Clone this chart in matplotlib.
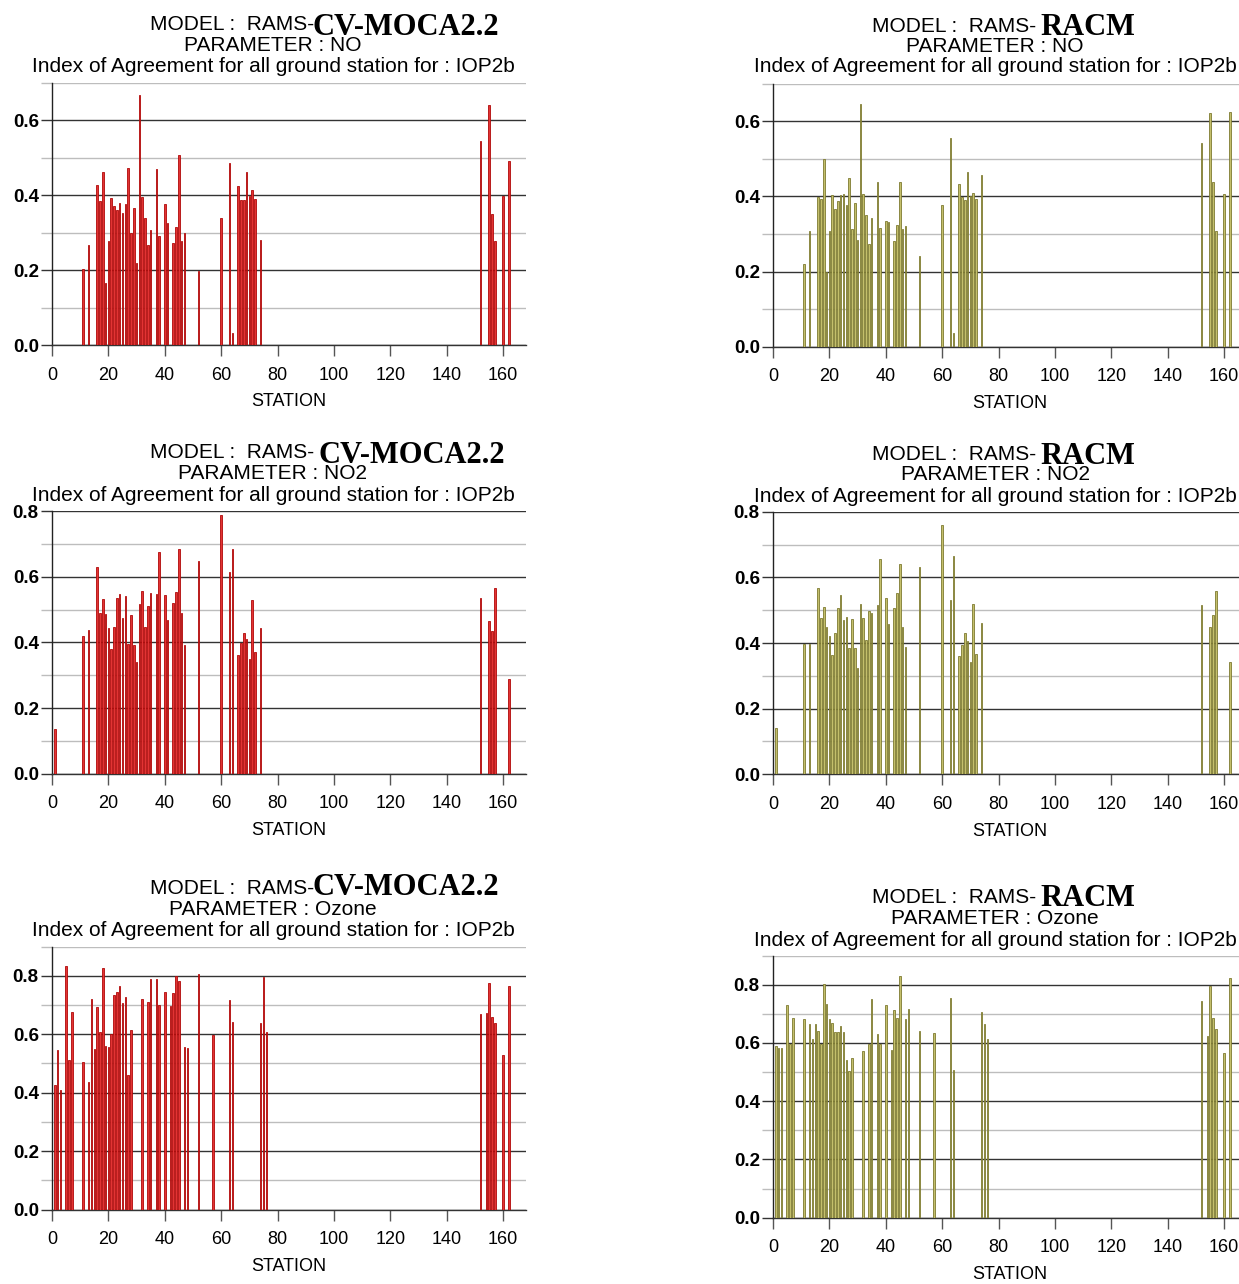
import matplotlib
matplotlib.use("Agg")
import matplotlib.pyplot as plt
from matplotlib.ticker import MultipleLocator

W, H = 1239, 1284

# station numbers (shared by both models for a given parameter)
no_stations = [11, 13, 16, 17, 18, 19, 20, 21, 22, 23, 24, 25, 26, 27, 28, 29, 30, 31, 32, 33,
               34, 35, 37, 38, 40, 41, 43, 44, 45, 46, 47, 52, 60, 63, 64, 66, 67, 68, 69, 70,
               71, 72, 74, 152, 155, 156, 157, 160, 162]
no2_stations = [1, 11, 13, 16, 17, 18, 19, 20, 21, 22, 23, 24, 25, 26, 27, 28, 29, 30, 31, 32,
                33, 34, 35, 37, 38, 40, 41, 43, 44, 45, 46, 47, 52, 60, 63, 64, 66, 67, 68, 69,
                70, 71, 72, 74, 152, 155, 156, 157, 162]
o3_stations = [1, 2, 3, 5, 6, 7, 11, 13, 14, 15, 16, 17, 18, 19, 20, 21, 22, 23, 24, 25, 26,
               27, 28, 32, 34, 35, 37, 38, 40, 42, 43, 44, 45, 47, 48, 52, 57, 63, 64, 74, 75,
               76, 152, 154, 155, 156, 157, 160, 162]

no_moca = [0.204, 0.268, 0.427, 0.386, 0.463, 0.166, 0.279, 0.394, 0.371, 0.362, 0.380, 0.354,
           0.378, 0.473, 0.300, 0.366, 0.220, 0.668, 0.396, 0.340, 0.266, 0.308, 0.469, 0.290,
           0.376, 0.327, 0.272, 0.316, 0.507, 0.277, 0.300, 0.197, 0.340, 0.485, 0.031, 0.425,
           0.388, 0.388, 0.463, 0.398, 0.413, 0.389, 0.281, 0.546, 0.642, 0.350, 0.278, 0.398,
           0.492]
no_racm = [0.221, 0.309, 0.399, 0.393, 0.500, 0.200, 0.309, 0.404, 0.367, 0.388, 0.404, 0.405,
           0.378, 0.448, 0.312, 0.383, 0.284, 0.646, 0.407, 0.350, 0.272, 0.342, 0.437, 0.316,
           0.333, 0.332, 0.280, 0.324, 0.438, 0.314, 0.322, 0.240, 0.377, 0.555, 0.036, 0.432,
           0.398, 0.390, 0.465, 0.401, 0.410, 0.393, 0.456, 0.541, 0.621, 0.439, 0.308, 0.406,
           0.624]
no2_moca = [0.135, 0.419, 0.437, 0.628, 0.490, 0.532, 0.487, 0.443, 0.380, 0.446, 0.534, 0.548,
            0.475, 0.542, 0.394, 0.482, 0.391, 0.340, 0.518, 0.555, 0.446, 0.512, 0.550, 0.548,
            0.674, 0.544, 0.467, 0.521, 0.554, 0.684, 0.490, 0.392, 0.647, 0.788, 0.615, 0.684,
            0.360, 0.399, 0.427, 0.410, 0.348, 0.530, 0.370, 0.445, 0.534, 0.464, 0.435, 0.566,
            0.289]
no2_racm = [0.141, 0.397, 0.397, 0.567, 0.475, 0.509, 0.448, 0.420, 0.364, 0.430, 0.508, 0.547,
            0.471, 0.480, 0.384, 0.474, 0.384, 0.324, 0.518, 0.476, 0.409, 0.497, 0.492, 0.517,
            0.657, 0.538, 0.459, 0.507, 0.552, 0.641, 0.450, 0.387, 0.631, 0.761, 0.530, 0.666,
            0.360, 0.394, 0.430, 0.407, 0.341, 0.519, 0.365, 0.460, 0.515, 0.450, 0.485, 0.559,
            0.341]
o3_moca = [0.425, 0.545, 0.408, 0.835, 0.511, 0.676, 0.504, 0.437, 0.721, 0.550, 0.693, 0.606,
           0.825, 0.560, 0.558, 0.600, 0.733, 0.745, 0.765, 0.708, 0.727, 0.459, 0.614, 0.721,
           0.711, 0.789, 0.789, 0.700, 0.745, 0.697, 0.742, 0.798, 0.782, 0.556, 0.553, 0.805,
           0.597, 0.717, 0.642, 0.638, 0.797, 0.607, 0.670, 0.672, 0.774, 0.659, 0.640, 0.529,
           0.766]
o3_racm = [0.590, 0.583, 0.583, 0.730, 0.597, 0.685, 0.684, 0.665, 0.613, 0.664, 0.640, 0.596,
           0.801, 0.735, 0.681, 0.667, 0.637, 0.637, 0.658, 0.637, 0.543, 0.505, 0.547, 0.573,
           0.598, 0.752, 0.630, 0.598, 0.732, 0.577, 0.712, 0.685, 0.831, 0.684, 0.717, 0.641,
           0.635, 0.756, 0.506, 0.708, 0.665, 0.613, 0.745, 0.624, 0.797, 0.687, 0.649, 0.567,
           0.823]

x_ticks = [0, 20, 40, 60, 80, 100, 120, 140, 160]

SANS = ["Liberation Sans", "DejaVu Sans"]
SERIF = ["Liberation Serif", "DejaVu Serif"]

fig = plt.figure(figsize=(W / 100, H / 100), dpi=100)


def ftext(x, y, s, **kw):
    # place text using pixel coordinates measured from the top-left corner
    fig.text(x / W, 1 - y / H, s, va="baseline", **kw)


def panel(left, top, bottom, ymax, stations, values, face, edge):
    xmax = 168
    width = xmax * 2.82
    ax = fig.add_axes([left / W, 1 - bottom / H, width / W, (bottom - top) / H])
    ax.bar(stations, values, width=0.55, color=face, edgecolor=edge, linewidth=0.6, zorder=3)
    ax.set_xlim(0, xmax)
    ax.set_ylim(0, ymax)
    ax.yaxis.set_major_locator(MultipleLocator(0.2))
    ax.yaxis.set_minor_locator(MultipleLocator(0.1))
    ax.grid(axis="y", which="major", color="#333333", linewidth=1.0, zorder=1)
    ax.grid(axis="y", which="minor", color="#bdbdbd", linewidth=1.0, zorder=1)
    ax.set_xticks(x_ticks)
    ax.set_yticklabels([f"{v:.1f}" for v in ax.get_yticks()], fontweight="bold",
                       fontsize=13.5, family=SANS)
    ax.tick_params(axis="y", which="major", direction="out", length=8, width=1.0,
                   color="#333333", pad=1.5)
    ax.tick_params(axis="y", which="minor", direction="out", length=8, width=1.0,
                   color="#bdbdbd")
    ax.tick_params(axis="x", direction="out", length=8, width=1.0, color="#555555",
                   labelsize=13, pad=7.5)
    for lab in ax.get_xticklabels():
        lab.set_family(SANS)
    ax.set_xlabel("STATION", fontsize=13, family=SANS, labelpad=7)
    for s in ["top", "right"]:
        ax.spines[s].set_visible(False)
    ax.spines["left"].set_color("#222222")
    ax.spines["left"].set_linewidth(1.0)
    ax.spines["bottom"].set_color("#333333")
    ax.spines["bottom"].set_linewidth(1.0)
    ax.set_facecolor("none")
    return ax


def titles(x_model, y_model, model, x_bold, y_bold, param, xc, y_param, y_index):
    ftext(x_model, y_model, "MODEL :  RAMS-", fontsize=15, family=SANS, ha="left")
    ftext(x_bold, y_bold, model, fontsize=22, family=SERIF, fontweight="bold", ha="left")
    ftext(xc, y_param, "PARAMETER : " + param, fontsize=15, family=SANS, ha="center")
    ftext(xc, y_index, "Index of Agreement for all ground station for : IOP2b",
          fontsize=15, family=SANS, ha="center")


RED, RED_E = "#e23434", "#b00808"
OLV, OLV_E = "#c4bf6c", "#7d7a30"

panel(52, 83, 345, 0.7, no_stations, no_moca, RED, RED_E)
titles(150, 30.5, "CV-MOCA2.2", 312, 35, "NO", 273, 51, 72.5)

panel(773, 83.5, 346.7, 0.7, no_stations, no_racm, OLV, OLV_E)
titles(872, 31.5, "RACM", 1040, 35, "NO", 995, 51.5, 72.5)

panel(52, 511, 773.7, 0.8, no2_stations, no2_moca, RED, RED_E)
titles(150, 458, "CV-MOCA2.2", 318, 463, "NO2", 273, 479, 501)

panel(773, 511.7, 774.3, 0.8, no2_stations, no2_racm, OLV, OLV_E)
titles(872, 460, "RACM", 1040, 463.5, "NO2", 995, 480.5, 501.5)

panel(52, 946.5, 1209.7, 0.9, o3_stations, o3_moca, RED, RED_E)
titles(150, 894, "CV-MOCA2.2", 312, 895, "Ozone", 273, 915, 936.5)

panel(773, 955.6, 1217.7, 0.9, o3_stations, o3_racm, OLV, OLV_E)
titles(872, 903, "RACM", 1040, 906.5, "Ozone", 995, 924, 946)

fig.savefig("out.png", dpi=100)
